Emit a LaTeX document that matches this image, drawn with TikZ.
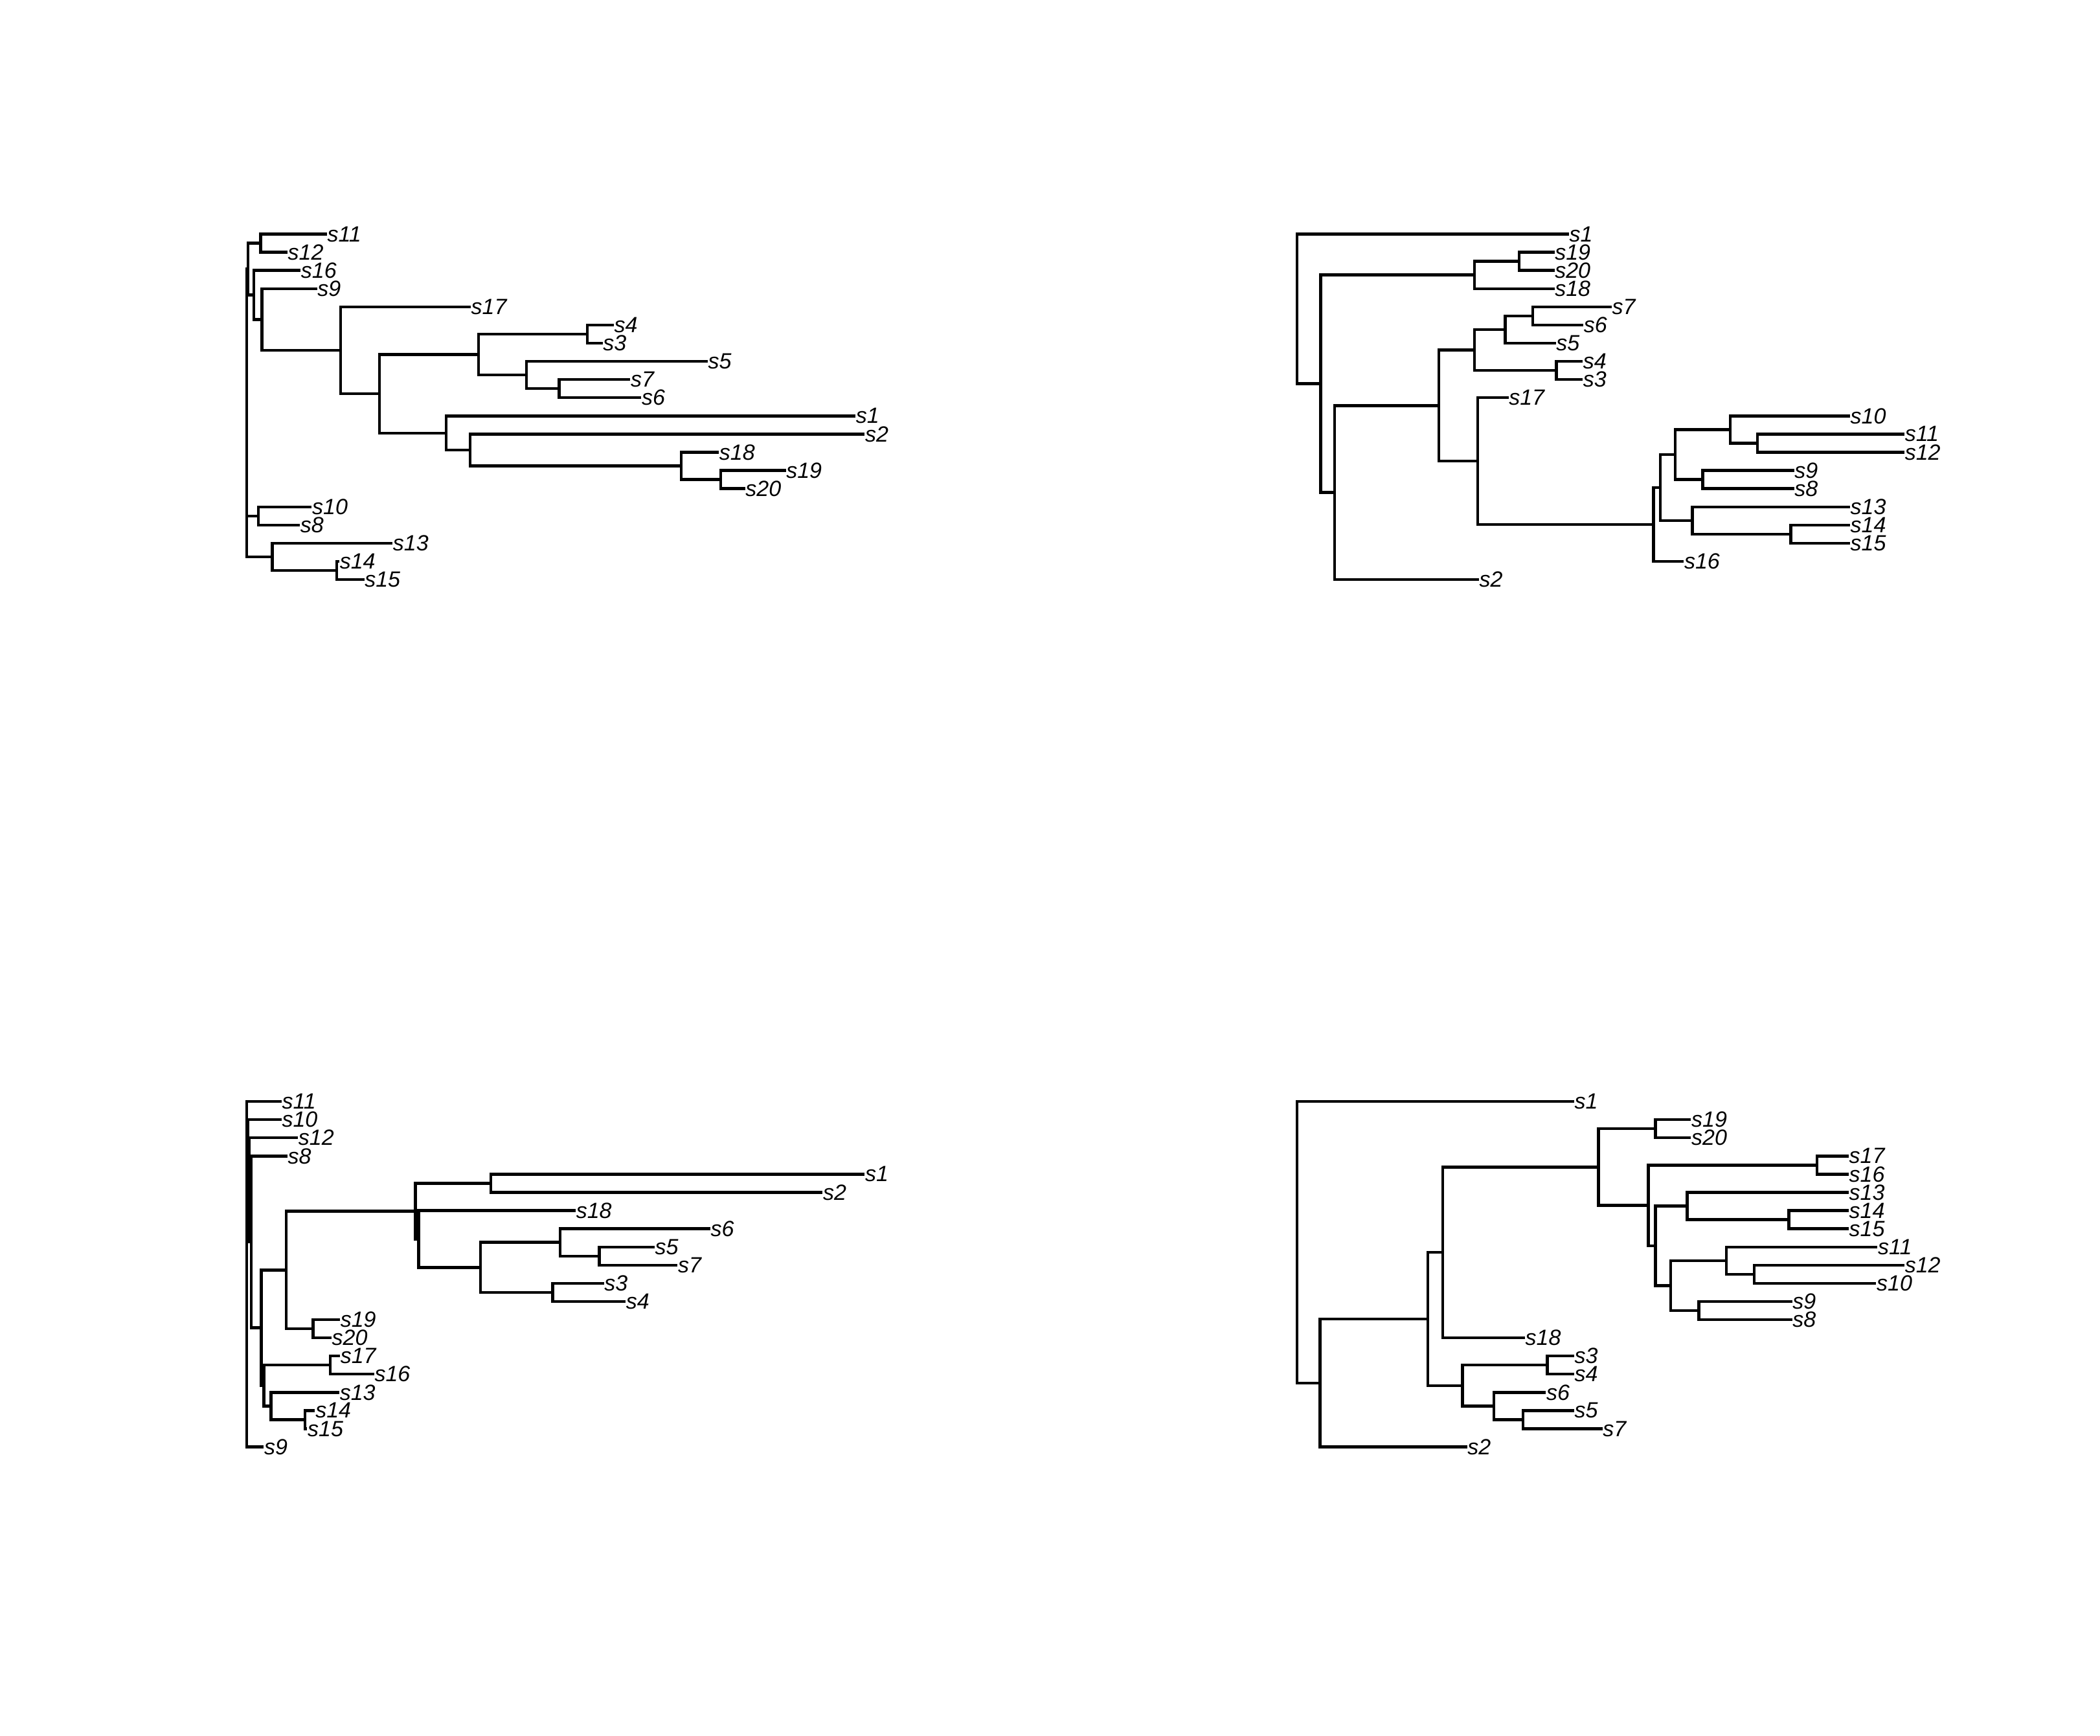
\documentclass[tikz,border=0pt]{standalone}
\usepackage{fontspec}
\setmainfont{Liberation Sans}
\begin{document}
\begin{tikzpicture}[
      x=0.2535pt, y=-7.02pt,
      br/.style={line width=1.1pt},
      lab/.style={anchor=west, inner sep=0pt, font=\fontsize{8.5}{9}\selectfont\itshape}
   ]
   \useasboundingbox (0,0) rectangle (3198.2,95.442);
   % top left tree
   \begin{scope}[shift={(-5.25,12.874)}]
      \node[lab] (a11) at (503,0) {s11};
      \node[lab] (a12) at (443,1) {s12};
      \node[lab] (a16) at (463,2) {s16};
      \node[lab] (a9) at (488,3) {s9};
      \node[lab] (a17) at (722,4) {s17};
      \node[lab] (a4) at (940,5) {s4};
      \node[lab] (a3) at (923,6) {s3};
      \node[lab] (a5) at (1083,7) {s5};
      \node[lab] (a7) at (965,8) {s7};
      \node[lab] (a6) at (982,9) {s6};
      \node[lab] (a1) at (1308,10) {s1};
      \node[lab] (a2) at (1322,11) {s2};
      \node[lab] (a18) at (1100,12) {s18};
      \node[lab] (a19) at (1202,13) {s19};
      \node[lab] (a20) at (1140,14) {s20};
      \node[lab] (a10) at (480,15) {s10};
      \node[lab] (a8) at (462,16) {s8};
      \node[lab] (a13) at (603,17) {s13};
      \node[lab] (a14) at (522,18) {s14};
      \node[lab] (a15) at (560,19) {s15};
      \coordinate (aA1) at (402,0.5);
      \coordinate (aF1) at (900,5.5);
      \coordinate (aF3) at (857,8.5);
      \coordinate (aF2) at (807,7.75);
      \coordinate (aF) at (734,6.625);
      \coordinate (aG4) at (1103,13.5);
      \coordinate (aG3) at (1043,12.75);
      \coordinate (aG2) at (721,11.875);
      \coordinate (aG) at (685,10.94);
      \coordinate (aE) at (583,8.78);
      \coordinate (aD) at (524,6.39);
      \coordinate (aC) at (404,4.70);
      \coordinate (aB) at (392,3.35);
      \coordinate (aA) at (383,1.92);
      \coordinate (aH) at (399,15.5);
      \coordinate (aI2) at (518,18.5);
      \coordinate (aI) at (420,17.75);
      \coordinate (aR) at (381,9.8);
      \draw[br] (aR) |- (aA) (aR) |- (aH) (aR) |- (aI);
      \draw[br] (aA) |- (aA1) (aA) |- (aB);
      \draw[br] (aA1) |- (a11.west) (aA1) |- (a12.west);
      \draw[br] (aB) |- (a16.west) (aB) |- (aC);
      \draw[br] (aC) |- (a9.west) (aC) |- (aD);
      \draw[br] (aD) |- (a17.west) (aD) |- (aE);
      \draw[br] (aE) |- (aF) (aE) |- (aG);
      \draw[br] (aF) |- (aF1) (aF) |- (aF2);
      \draw[br] (aF1) |- (a4.west) (aF1) |- (a3.west);
      \draw[br] (aF2) |- (a5.west) (aF2) |- (aF3);
      \draw[br] (aF3) |- (a7.west) (aF3) |- (a6.west);
      \draw[br] (aG) |- (a1.west) (aG) |- (aG2);
      \draw[br] (aG2) |- (a2.west) (aG2) |- (aG3);
      \draw[br] (aG3) |- (a18.west) (aG3) |- (aG4);
      \draw[br] (aG4) |- (a19.west) (aG4) |- (a20.west);
      \draw[br] (aH) |- (a10.west) (aH) |- (a8.west);
      \draw[br] (aI) |- (a13.west) (aI) |- (aI2);
      \draw[br] (aI2) |- (a14.west) (aI2) |- (a15.west);
   \end{scope}
   % top right tree
   \begin{scope}[shift={(-27.66,12.874)}]
      \node[lab] (b1) at (2417,0) {s1};
      \node[lab] (b19) at (2395,1) {s19};
      \node[lab] (b20) at (2395,2) {s20};
      \node[lab] (b18) at (2395,3) {s18};
      \node[lab] (b7) at (2482,4) {s7};
      \node[lab] (b6) at (2439,5) {s6};
      \node[lab] (b5) at (2397,6) {s5};
      \node[lab] (b4) at (2438,7) {s4};
      \node[lab] (b3) at (2438,8) {s3};
      \node[lab] (b17) at (2325,9) {s17};
      \node[lab] (b10) at (2845,10) {s10};
      \node[lab] (b11) at (2928,11) {s11};
      \node[lab] (b12) at (2928,12) {s12};
      \node[lab] (b9) at (2760,13) {s9};
      \node[lab] (b8) at (2760,14) {s8};
      \node[lab] (b13) at (2845,15) {s13};
      \node[lab] (b14) at (2845,16) {s14};
      \node[lab] (b15) at (2845,17) {s15};
      \node[lab] (b16) at (2592,18) {s16};
      \node[lab] (b2) at (2280,19) {s2};
      \coordinate (bC1) at (2341,1.5);
      \coordinate (bC) at (2273,2.25);
      \coordinate (bF1a) at (2362,4.5);
      \coordinate (bF1) at (2320,5.25);
      \coordinate (bF2) at (2398,7.5);
      \coordinate (bF) at (2273,6.375);
      \coordinate (bJ1a) at (2704,11.5);
      \coordinate (bJ1) at (2663,10.75);
      \coordinate (bJ2) at (2621,13.5);
      \coordinate (bJ) at (2579,12.125);
      \coordinate (bK1) at (2755,16.5);
      \coordinate (bK) at (2605,15.75);
      \coordinate (bI) at (2556,13.94);
      \coordinate (bH) at (2546,15.97);
      \coordinate (bG) at (2278,12.48);
      \coordinate (bE) at (2219,9.43);
      \coordinate (bD) at (2060,14.21);
      \coordinate (bB) at (2039,8.23);
      \coordinate (bR) at (2003,4.12);
      \draw[br] (bR) |- (b1.west) (bR) |- (bB);
      \draw[br] (bB) |- (bC) (bB) |- (bD);
      \draw[br] (bC) |- (bC1) (bC) |- (b18.west);
      \draw[br] (bC1) |- (b19.west) (bC1) |- (b20.west);
      \draw[br] (bD) |- (bE) (bD) |- (b2.west);
      \draw[br] (bE) |- (bF) (bE) |- (bG);
      \draw[br] (bF) |- (bF1) (bF) |- (bF2);
      \draw[br] (bF1) |- (bF1a) (bF1) |- (b5.west);
      \draw[br] (bF1a) |- (b7.west) (bF1a) |- (b6.west);
      \draw[br] (bF2) |- (b4.west) (bF2) |- (b3.west);
      \draw[br] (bG) |- (b17.west) (bG) |- (bH);
      \draw[br] (bH) |- (bI) (bH) |- (b16.west);
      \draw[br] (bI) |- (bJ) (bI) |- (bK);
      \draw[br] (bJ) |- (bJ1) (bJ) |- (bJ2);
      \draw[br] (bJ1) |- (b10.west) (bJ1) |- (bJ1a);
      \draw[br] (bJ1a) |- (b11.west) (bJ1a) |- (b12.west);
      \draw[br] (bJ2) |- (b9.west) (bJ2) |- (b8.west);
      \draw[br] (bK) |- (b13.west) (bK) |- (bK1);
      \draw[br] (bK1) |- (b14.west) (bK1) |- (b15.west);
   \end{scope}
   % bottom left tree
   \begin{scope}[shift={(-5.25,60.577)}]
      \node[lab] (c11) at (434,0) {s11};
      \node[lab] (c10) at (434,1) {s10};
      \node[lab] (c12) at (459,2) {s12};
      \node[lab] (c8) at (443,3) {s8};
      \node[lab] (c1) at (1322,4) {s1};
      \node[lab] (c2) at (1258,5) {s2};
      \node[lab] (c18) at (882,6) {s18};
      \node[lab] (c6) at (1087,7) {s6};
      \node[lab] (c5) at (1002,8) {s5};
      \node[lab] (c7) at (1037,9) {s7};
      \node[lab] (c3) at (925,10) {s3};
      \node[lab] (c4) at (958,11) {s4};
      \node[lab] (c19) at (523,12) {s19};
      \node[lab] (c20) at (510,13) {s20};
      \node[lab] (c17) at (523,14) {s17};
      \node[lab] (c16) at (575,15) {s16};
      \node[lab] (c13) at (522,16) {s13};
      \node[lab] (c14) at (485,17) {s14};
      \node[lab] (c15) at (473,18) {s15};
      \node[lab] (c9) at (407,19) {s9};
      \coordinate (cN8) at (753,4.5);
      \coordinate (cN11) at (918,8.5);
      \coordinate (cN10) at (858,7.75);
      \coordinate (cN12) at (847,10.5);
      \coordinate (cN9) at (737,9.125);
      \coordinate (cN7b) at (643,7.5625);
      \coordinate (cN7) at (638,6.03);
      \coordinate (cN16) at (482,12.5);
      \coordinate (cN5) at (441,9.27);
      \coordinate (cN13) at (508,14.5);
      \coordinate (cN15) at (470,17.5);
      \coordinate (cN14) at (418,16.75);
      \coordinate (cN6) at (407,15.625);
      \coordinate (cN4) at (403,12.45);
      \coordinate (cN3) at (388,7.72);
      \coordinate (cN2) at (385,4.86);
      \coordinate (cN1) at (383,2.93);
      \coordinate (cR) at (381,9.5);
      \draw[br] (cR) |- (c11.west) (cR) |- (cN1) (cR) |- (c9.west);
      \draw[br] (cN1) |- (c10.west) (cN1) |- (cN2);
      \draw[br] (cN2) |- (c12.west) (cN2) |- (cN3);
      \draw[br] (cN3) |- (c8.west) (cN3) |- (cN4);
      \draw[br] (cN4) |- (cN5) (cN4) |- (cN6);
      \draw[br] (cN5) |- (cN7) (cN5) |- (cN16);
      \draw[br] (cN7) |- (cN8) (cN7) |- (cN7b);
      \draw[br] (cN8) |- (c1.west) (cN8) |- (c2.west);
      \draw[br] (cN7b) |- (c18.west) (cN7b) |- (cN9);
      \draw[br] (cN9) |- (cN10) (cN9) |- (cN12);
      \draw[br] (cN10) |- (c6.west) (cN10) |- (cN11);
      \draw[br] (cN11) |- (c5.west) (cN11) |- (c7.west);
      \draw[br] (cN12) |- (c3.west) (cN12) |- (c4.west);
      \draw[br] (cN16) |- (c19.west) (cN16) |- (c20.west);
      \draw[br] (cN6) |- (cN13) (cN6) |- (cN14);
      \draw[br] (cN13) |- (c17.west) (cN13) |- (c16.west);
      \draw[br] (cN14) |- (c13.west) (cN14) |- (cN15);
      \draw[br] (cN15) |- (c14.west) (cN15) |- (c15.west);
   \end{scope}
   % bottom right tree
   \begin{scope}[shift={(-27.66,60.577)}]
      \node[lab] (d1) at (2425,0) {s1};
      \node[lab] (d19) at (2603,1) {s19};
      \node[lab] (d20) at (2603,2) {s20};
      \node[lab] (d17) at (2843,3) {s17};
      \node[lab] (d16) at (2843,4) {s16};
      \node[lab] (d13) at (2843,5) {s13};
      \node[lab] (d14) at (2843,6) {s14};
      \node[lab] (d15) at (2843,7) {s15};
      \node[lab] (d11) at (2887,8) {s11};
      \node[lab] (d12) at (2928,9) {s12};
      \node[lab] (d10) at (2885,10) {s10};
      \node[lab] (d9) at (2757,11) {s9};
      \node[lab] (d8) at (2757,12) {s8};
      \node[lab] (d18) at (2350,13) {s18};
      \node[lab] (d3) at (2425,14) {s3};
      \node[lab] (d4) at (2425,15) {s4};
      \node[lab] (d6) at (2382,16) {s6};
      \node[lab] (d5) at (2425,17) {s5};
      \node[lab] (d7) at (2468,18) {s7};
      \node[lab] (d2) at (2262,19) {s2};
      \coordinate (dF1) at (2549,1.5);
      \coordinate (dG1) at (2795,3.5);
      \coordinate (dI1) at (2752,6.5);
      \coordinate (dI) at (2597,5.75);
      \coordinate (dJ1a) at (2699,9.5);
      \coordinate (dJ1) at (2657,8.75);
      \coordinate (dJ2) at (2615,11.5);
      \coordinate (dJ) at (2572,10.125);
      \coordinate (dH) at (2549,7.94);
      \coordinate (dG) at (2538,5.72);
      \coordinate (dF) at (2462,3.61);
      \coordinate (dD) at (2225,8.3);
      \coordinate (dE1) at (2384,14.5);
      \coordinate (dE3) at (2347,17.5);
      \coordinate (dE2) at (2303,16.75);
      \coordinate (dE) at (2255,15.625);
      \coordinate (dC) at (2202,11.96);
      \coordinate (dB) at (2038,15.48);
      \coordinate (dR) at (2003,7.74);
      \draw[br] (dR) |- (d1.west) (dR) |- (dB);
      \draw[br] (dB) |- (dC) (dB) |- (d2.west);
      \draw[br] (dC) |- (dD) (dC) |- (dE);
      \draw[br] (dD) |- (dF) (dD) |- (d18.west);
      \draw[br] (dF) |- (dF1) (dF) |- (dG);
      \draw[br] (dF1) |- (d19.west) (dF1) |- (d20.west);
      \draw[br] (dG) |- (dG1) (dG) |- (dH);
      \draw[br] (dG1) |- (d17.west) (dG1) |- (d16.west);
      \draw[br] (dH) |- (dI) (dH) |- (dJ);
      \draw[br] (dI) |- (d13.west) (dI) |- (dI1);
      \draw[br] (dI1) |- (d14.west) (dI1) |- (d15.west);
      \draw[br] (dJ) |- (dJ1) (dJ) |- (dJ2);
      \draw[br] (dJ1) |- (d11.west) (dJ1) |- (dJ1a);
      \draw[br] (dJ1a) |- (d12.west) (dJ1a) |- (d10.west);
      \draw[br] (dJ2) |- (d9.west) (dJ2) |- (d8.west);
      \draw[br] (dE) |- (dE1) (dE) |- (dE2);
      \draw[br] (dE1) |- (d3.west) (dE1) |- (d4.west);
      \draw[br] (dE2) |- (d6.west) (dE2) |- (dE3);
      \draw[br] (dE3) |- (d5.west) (dE3) |- (d7.west);
   \end{scope}
\end{tikzpicture}
\end{document}
